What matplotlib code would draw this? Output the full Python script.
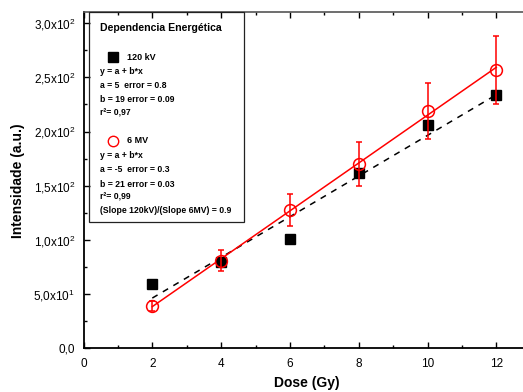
import numpy as np
import matplotlib
matplotlib.use("Agg")
import matplotlib.pyplot as plt
from matplotlib.patches import Rectangle
from matplotlib.ticker import MultipleLocator

plt.rcParams['font.family'] = ['Liberation Sans', 'DejaVu Sans']
plt.rcParams['mathtext.fontset'] = 'custom'
plt.rcParams['mathtext.rm'] = 'Liberation Sans'
plt.rcParams['mathtext.it'] = 'Liberation Sans:italic'
plt.rcParams['mathtext.bf'] = 'Liberation Sans:bold'
plt.rcParams['mathtext.default'] = 'rm'

dose = [2, 4, 6, 8, 10, 12]
kv120 = [59, 80, 100.5, 161.7, 205.7, 234]
mv6 = [39, 80.8, 127.6, 170, 219, 256.7]
mv6_err = [4.7, 9.5, 15, 20, 26, 31]

yticks = [0, 50, 100, 150, 200, 250, 300]
yticklabels = ['0,0', '5,0x10$^{1}$', '1,0x10$^{2}$', '1,5x10$^{2}$',
               '2,0x10$^{2}$', '2,5x10$^{2}$', '3,0x10$^{2}$']
xticks = [0, 2, 4, 6, 8, 10, 12]

legend_lines = [
    ("y = a + b*x", 71),
    ("a = 5  error = 0.8", 85),
    ("b = 19 error = 0.09", 99),
    ("r\u00b2= 0,97", 113),
    ("y = a + b*x", 155),
    ("a = -5  error = 0.3", 170),
    ("b = 21 error = 0.03", 184),
    ("r\u00b2= 0,99", 197),
    ("(Slope 120kV)/(Slope 6MV) = 0.9", 211),
]

W, H = 523, 392
fig = plt.figure(figsize=(W / 100, H / 100), dpi=100)

def fx(x):
    return x / W

def fy(y):
    return 1 - y / H

left, bottom, top_px = 83.5, 348.3, 12.3
xmax = 13.0
px_per_x = (496.3 - 83.5) / 12
right = left + xmax * px_per_x
ax = fig.add_axes([fx(left), fy(bottom), (right - left) / W, (bottom - top_px) / H])
ax.set_xlim(0, xmax)
ax.set_ylim(0, 310)

x = np.array(dose, dtype=float)
xx = np.array([min(dose), max(dose)], dtype=float)
p1 = np.polyfit(x, kv120, 1)
p2 = np.polyfit(x, mv6, 1)
ax.plot(xx, np.polyval(p1, xx), color='black', ls=(0, (4, 4)), lw=1.1, zorder=2)
ax.plot(xx, np.polyval(p2, xx), color='red', ls='-', lw=1.1, zorder=2)
ax.plot(dose, kv120, ls='none', marker='s', ms=7, color='black', zorder=3)
ax.errorbar(dose, mv6, yerr=mv6_err, fmt='o', ms=8.5, mfc='none', mec='red',
            mew=1.1, ecolor='red', elinewidth=1.1, capsize=2.5, capthick=1.1, zorder=4)

ax.set_yticks(yticks)
ax.set_yticklabels(yticklabels)
ax.yaxis.set_minor_locator(MultipleLocator(25))
ax.set_xticks(xticks)
ax.xaxis.set_minor_locator(MultipleLocator(1))
ax.tick_params(axis='both', which='major', labelsize=8.5, length=4, width=1, direction='out')
ax.tick_params(axis='both', which='minor', length=2, width=1, direction='out')
ax.tick_params(axis='y', which='major', pad=6)
ax.tick_params(axis='x', which='major', pad=7)
ax.tick_params(top=True, which='both', direction='in')
for s in ['left', 'bottom']:
    ax.spines[s].set_linewidth(1.3)
ax.spines['top'].set_color('#555555')
ax.spines['top'].set_linewidth(1.2)
ax.spines['right'].set_visible(False)

ax.set_xlabel('Dose (Gy)', fontsize=10, fontweight='bold', labelpad=4)
ax.set_ylabel('Intensidade (a.u.)', fontsize=10, fontweight='bold', labelpad=6)

# legend / annotation box
fig.add_artist(Rectangle((fx(89.3), fy(222.3)), (244 - 89.3) / W, (222.3 - 12.3) / H,
                         transform=fig.transFigure, fill=False, ec='#222222', lw=0.9, zorder=5))
fig.text(fx(100), fy(28), 'Dependencia Energética', fontsize=7.6, fontweight='bold',
         va='center', ha='left')
fig.add_artist(plt.Line2D([fx(113)], [fy(57)], marker='s', ms=6.5, color='black',
                          transform=fig.transFigure))
fig.text(fx(127), fy(57), '120 kV', fontsize=6.5, fontweight='bold', va='center', ha='left')
fig.add_artist(plt.Line2D([fx(112.5)], [fy(141)], marker='o', ms=7.5, mfc='none', mec='red',
                          mew=1.0, transform=fig.transFigure))
fig.text(fx(127), fy(141), '6 MV', fontsize=6.5, fontweight='bold', va='center', ha='left')
for txt, yy in legend_lines:
    fig.text(fx(100), fy(yy), txt, fontsize=6.2, fontweight='bold', va='center', ha='left')

fig.savefig('out.png', dpi=100)
